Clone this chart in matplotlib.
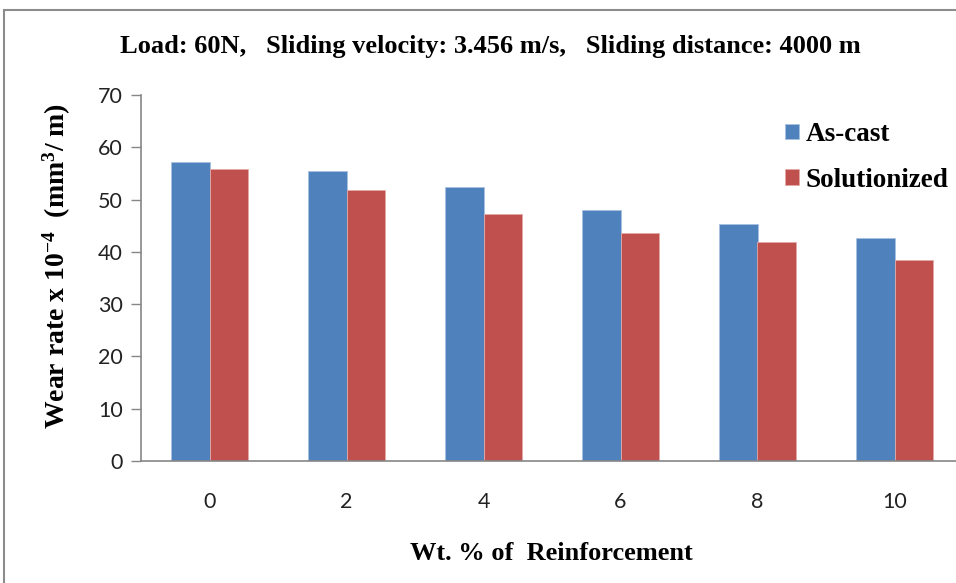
import matplotlib
matplotlib.use("Agg")
import matplotlib.pyplot as plt
from matplotlib.patches import Rectangle
import numpy as np

# data
reinforcement = ["0", "2", "4", "6", "8", "10"]
as_cast = [57.2, 55.5, 52.5, 48.0, 45.3, 42.6]
solutionized = [55.8, 51.8, 47.2, 43.7, 41.8, 38.4]

blue = "#4F81BD"
red = "#C0504D"
axis_grey = "#868686"

plt.rcParams["mathtext.fontset"] = "custom"
plt.rcParams["mathtext.rm"] = "Liberation Serif:bold"
plt.rcParams["mathtext.it"] = "Liberation Serif:bold"
plt.rcParams["mathtext.bf"] = "Liberation Serif:bold"

fig = plt.figure(figsize=(9.56, 5.83), dpi=100)
# outer chart border (cut off at right/bottom like the reference)
fig.patches.append(Rectangle((4 / 956, -0.1), 1.1, 1 - 10 / 583 + 0.1,
                             transform=fig.transFigure, fill=False,
                             edgecolor="#8c8c8c", linewidth=1.5))

ax = fig.add_axes([141 / 956, 1 - 461 / 583, 822 / 956, 366 / 583])
x = np.arange(len(reinforcement))
w = 0.28
ax.bar(x - w / 2, as_cast, w, color=blue, edgecolor="#a9c1e0", linewidth=0.6,
       label="As-cast")
ax.bar(x + w / 2, solutionized, w, color=red, edgecolor="#e3a9a7", linewidth=0.6,
       label="Solutionized")

ax.set_xlim(-0.5, len(reinforcement) - 0.5)
ax.set_ylim(0, 70)
ax.set_yticks(range(0, 71, 10))
ax.set_xticks(x)
ax.set_xticklabels(reinforcement)

for s in ["top", "right"]:
    ax.spines[s].set_visible(False)
for s in ["left", "bottom"]:
    ax.spines[s].set_color(axis_grey)
    ax.spines[s].set_linewidth(1.2)
ax.tick_params(axis="y", length=7, color=axis_grey, width=1, pad=6,
               labelsize=15.5, labelcolor="#222222")
ax.tick_params(axis="x", length=0, pad=22, labelsize=15.5, labelcolor="#222222")
for lab in ax.get_xticklabels() + ax.get_yticklabels():
    lab.set_family("Lato")

fig.text(490 / 956, 1 - 46 / 583, "Load: 60N,   Sliding velocity: 3.456 m/s,   Sliding distance: 4000 m",
         ha="center", va="center", family="Liberation Serif", weight="bold",
         fontsize=19)
fig.text(57 / 956, 1 - 266 / 583, r"Wear rate x 10$^{-4}$  (mm$^{3}$/ m)",
         rotation=90, ha="center", va="center", family="Liberation Serif",
         weight="bold", fontsize=20)
fig.text(551 / 956, 1 - 553 / 583, "Wt. % of  Reinforcement",
         ha="center", va="center", family="Liberation Serif", weight="bold",
         fontsize=19)

leg = ax.legend(loc="upper left", bbox_to_anchor=(761 / 956, 1 - 98 / 583),
                bbox_transform=fig.transFigure, frameon=False,
                prop={"family": "Liberation Serif", "weight": "bold", "size": 19.5},
                handlelength=0.5, handleheight=0.5, handletextpad=0.25,
                labelspacing=0.75)

fig.savefig("out.png", dpi=100)
